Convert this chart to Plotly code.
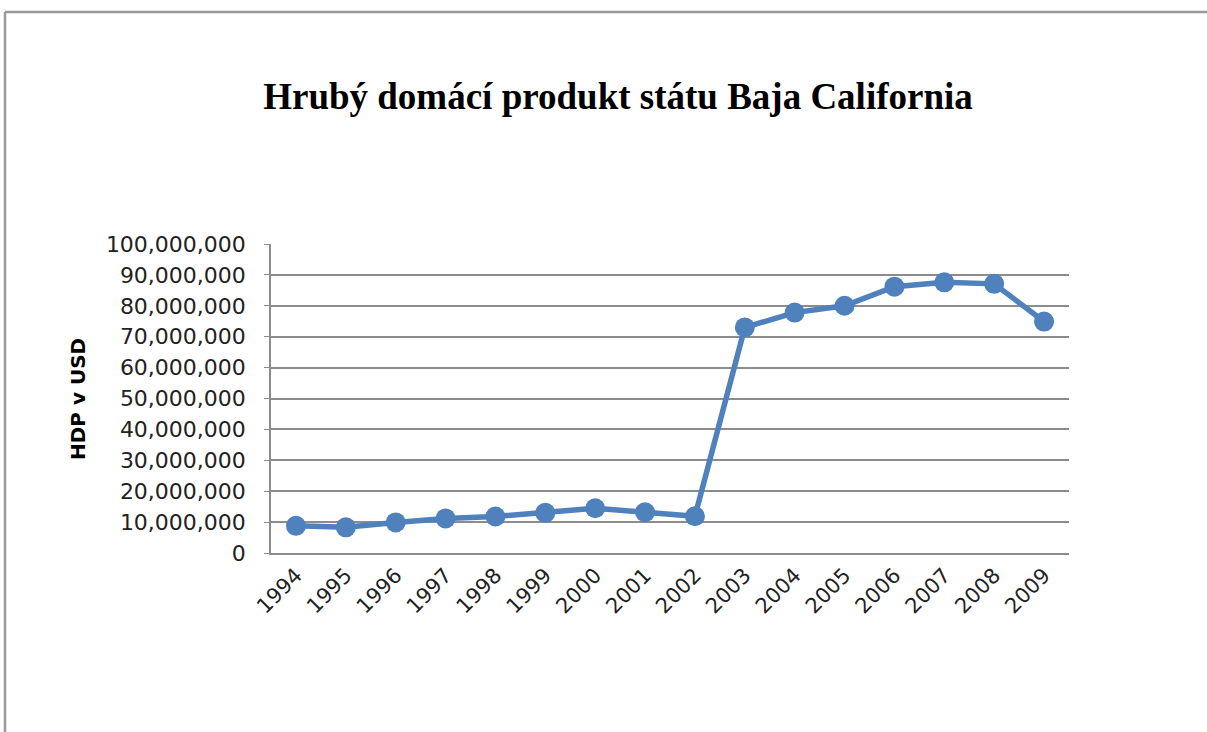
import plotly.graph_objects as go

years = ["1994", "1995", "1996", "1997", "1998", "1999", "2000", "2001",
         "2002", "2003", "2004", "2005", "2006", "2007", "2008", "2009"]
gdp = [8.8e6, 8.3e6, 9.9e6, 11.2e6, 11.8e6, 13.0e6, 14.5e6, 13.2e6,
       11.9e6, 73.0e6, 77.8e6, 80.0e6, 86.2e6, 87.6e6, 87.1e6, 74.9e6]
y_ticks = [0, 10e6, 20e6, 30e6, 40e6, 50e6, 60e6, 70e6, 80e6, 90e6, 100e6]
y_tick_text = ["0", "10,000,000", "20,000,000", "30,000,000", "40,000,000",
               "50,000,000", "60,000,000", "70,000,000", "80,000,000",
               "90,000,000", "100,000,000"]
title_text = "Hrubý domácí produkt státu Baja California"
y_title = "HDP v USD"

W, H = 1207, 732
L, R, T, B = 271, 1069, 244, 553
pw, ph = R - L, B - T

fig = go.Figure()
fig.add_trace(go.Scatter(
    x=years, y=gdp, mode="lines+markers",
    line=dict(color="#4F81BD", width=5.5),
    marker=dict(color="#4F81BD", size=20),
    showlegend=False, hoverinfo="x+y",
))

fig.update_layout(
    width=W, height=H,
    margin=dict(l=L, r=W - R, t=T, b=H - B, pad=0),
    paper_bgcolor="white", plot_bgcolor="white",
    title=dict(text=title_text, x=618 / W, xanchor="center",
               y=1 - 96 / H, yanchor="middle", yref="container",
               font=dict(family="Liberation Serif", size=37, color="black", weight="bold")),
    font=dict(family="DejaVu Sans", size=22, color="#222222"),
)
fig.update_xaxes(
    type="category", tickangle=-45, showgrid=False,
    showline=True, linecolor="#8c8c8c", linewidth=1.5,
    ticks="", tickfont=dict(family="DejaVu Sans", size=21, color="#222222"),
    range=[-0.5, len(years) - 0.5],
)
fig.update_yaxes(
    range=[0, 100e6], tickvals=y_ticks, ticktext=y_tick_text,
    showgrid=True, gridcolor="#8c8c8c", gridwidth=1.5,
    showline=True, linecolor="#8c8c8c", linewidth=1.5,
    ticks="outside", ticklen=5, tickcolor="#8c8c8c",
    ticklabelstandoff=14, zeroline=False,
    tickfont=dict(family="DejaVu Sans", size=22, color="#222222"),
)
fig.add_annotation(
    text=y_title, textangle=-90, showarrow=False,
    xref="paper", yref="paper",
    x=(78 - L) / pw, y=(B - 399) / ph, xanchor="center", yanchor="middle",
    font=dict(family="DejaVu Sans", size=20, color="black", weight="bold"),
)
# outer chart frame: only the top and left edges fall inside the window
frame = dict(color="#999999", width=2.5)
fig.add_shape(type="line", xref="paper", yref="paper",
              x0=(5 - L) / pw, x1=(1300 - L) / pw,
              y0=(B - 12) / ph, y1=(B - 12) / ph, line=frame, layer="below")
fig.add_shape(type="line", xref="paper", yref="paper",
              x0=(5 - L) / pw, x1=(5 - L) / pw,
              y0=(B - 12) / ph, y1=(B - 800) / ph, line=frame, layer="below")
fig.write_html(
    "out.html",
    config={"displayModeBar": False},
    post_script="document.body.style.margin='0';document.body.style.overflow='hidden';",
)
